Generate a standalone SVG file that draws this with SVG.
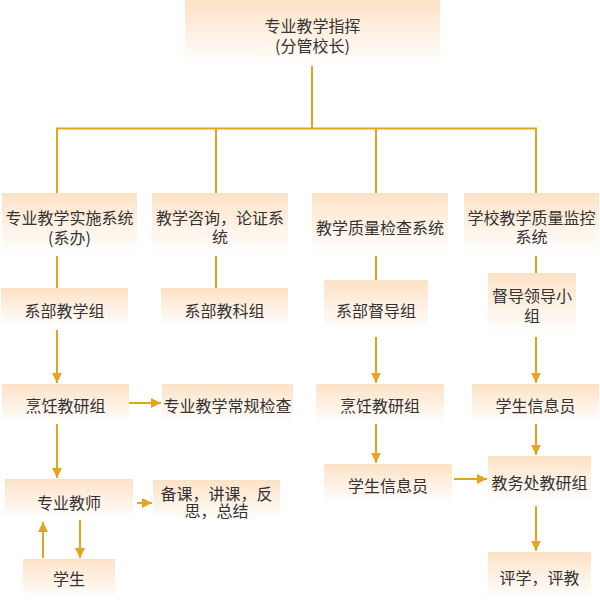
<svg xmlns="http://www.w3.org/2000/svg" width="600" height="600" viewBox="0 0 600 600">
<style>
.box{fill:url(#g)}
.t{font-family:"Noto Sans CJK SC","Microsoft YaHei",sans-serif;font-size:16px;fill:#333;text-anchor:middle;dominant-baseline:central}
.ln{stroke:#E3A41E;stroke-width:2;fill:none}
.ar{stroke:#E3A41E;stroke-width:2;fill:none;marker-end:url(#ah)}
</style>
<defs>
<linearGradient id="g" x1="0" y1="0" x2="0" y2="1">
<stop offset="0" stop-color="#FDE2C6"/>
<stop offset="1" stop-color="#FFFFFF"/>
</linearGradient>
<marker id="ah" markerUnits="userSpaceOnUse" markerWidth="11" markerHeight="10" refX="10" refY="5" orient="auto">
<path d="M0,0 L10,5 L0,10 Z" fill="#E3A41E"/>
</marker>
</defs>
<rect width="600" height="600" fill="#fff"/>
<g id="connectors">
<path class="ln" d="M312,65 V128.5 M57,193 V128.5 H536 V193 M216,128.5 V193 M376,128.5 V193"/>
<path class="ln" d="M57,256 V288 M216,256 V288 M376,256 V280 M536,256 V273"/>
<path class="ar" d="M57,330 V383"/>
<path class="ar" d="M129,403 H161"/>
<path class="ar" d="M376,337 V383"/>
<path class="ar" d="M536,337 V383"/>
<path class="ar" d="M57,424 V478"/>
<path class="ar" d="M137,503 H152"/>
<path class="ar" d="M376,424 V463"/>
<path class="ar" d="M454,479 H487"/>
<path class="ar" d="M536,423 V455"/>
<path class="ar" d="M536,506 V551"/>
<path class="ar" d="M43,558 V522"/>
<path class="ar" d="M80,520 V558"/>
</g>
<g id="n-top"><rect class="box" x="185" y="0" width="255" height="66"/><text class="t" x="312.5" y="25">专业教学指挥<tspan x="312.5" y="45">(分管校长)</tspan></text></g>
<g id="n-a1"><rect class="box" x="2" y="193" width="135" height="60"/><text class="t" x="69.5" y="217">专业教学实施系统<tspan x="69.5" y="237">(系办)</tspan></text></g>
<g id="n-b1"><rect class="box" x="152" y="193" width="136" height="60"/><text class="t" x="220" y="217">教学咨询，论证系<tspan x="220" y="236">统</tspan></text></g>
<g id="n-c1"><rect class="box" x="312" y="193" width="136" height="60"/><text class="t" x="380" y="227">教学质量检查系统</text></g>
<g id="n-d1"><rect class="box" x="464" y="193" width="135" height="60"/><text class="t" x="531.5" y="217">学校教学质量监控<tspan x="531.5" y="236">系统</tspan></text></g>
<g id="n-a2"><rect class="box" x="1" y="288" width="127" height="40"/><text class="t" x="64.5" y="310">系部教学组</text></g>
<g id="n-b2"><rect class="box" x="161" y="288" width="127" height="40"/><text class="t" x="224.5" y="310">系部教科组</text></g>
<g id="n-c2"><rect class="box" x="324" y="280" width="104" height="52"/><text class="t" x="376" y="310">系部督导组</text></g>
<g id="n-d2"><rect class="box" x="488" y="273" width="88" height="60"/><text class="t" x="532" y="295">督导领导小<tspan x="532" y="315">组</tspan></text></g>
<g id="n-a3"><rect class="box" x="2" y="384" width="127" height="40"/><text class="t" x="65.5" y="405">烹饪教研组</text></g>
<g id="n-b3"><rect class="box" x="162" y="384" width="131" height="40"/><text class="t" x="227.5" y="405">专业教学常规检查</text></g>
<g id="n-c3"><rect class="box" x="316" y="384" width="128" height="40"/><text class="t" x="380" y="405">烹饪教研组</text></g>
<g id="n-d3"><rect class="box" x="472" y="384" width="127" height="40"/><text class="t" x="535.5" y="405">学生信息员</text></g>
<g id="n-a4"><rect class="box" x="5" y="479" width="128" height="40"/><text class="t" x="69" y="502">专业教师</text></g>
<g id="n-b4"><rect class="box" x="153" y="480" width="127" height="40"/><text class="t" x="216.5" y="493">备课，讲课，反<tspan x="216.5" y="510">思，总结</tspan></text></g>
<g id="n-c4"><rect class="box" x="324" y="464" width="128" height="40"/><text class="t" x="388" y="485">学生信息员</text></g>
<g id="n-d4"><rect class="box" x="488" y="456" width="103" height="45"/><text class="t" x="539.5" y="482">教务处教研组</text></g>
<g id="n-a5"><rect class="box" x="23" y="559" width="92" height="40"/><text class="t" x="69" y="578">学生</text></g>
<g id="n-d5"><rect class="box" x="488" y="552" width="103" height="47"/><text class="t" x="539.5" y="577">评学，评教</text></g>
</svg>
